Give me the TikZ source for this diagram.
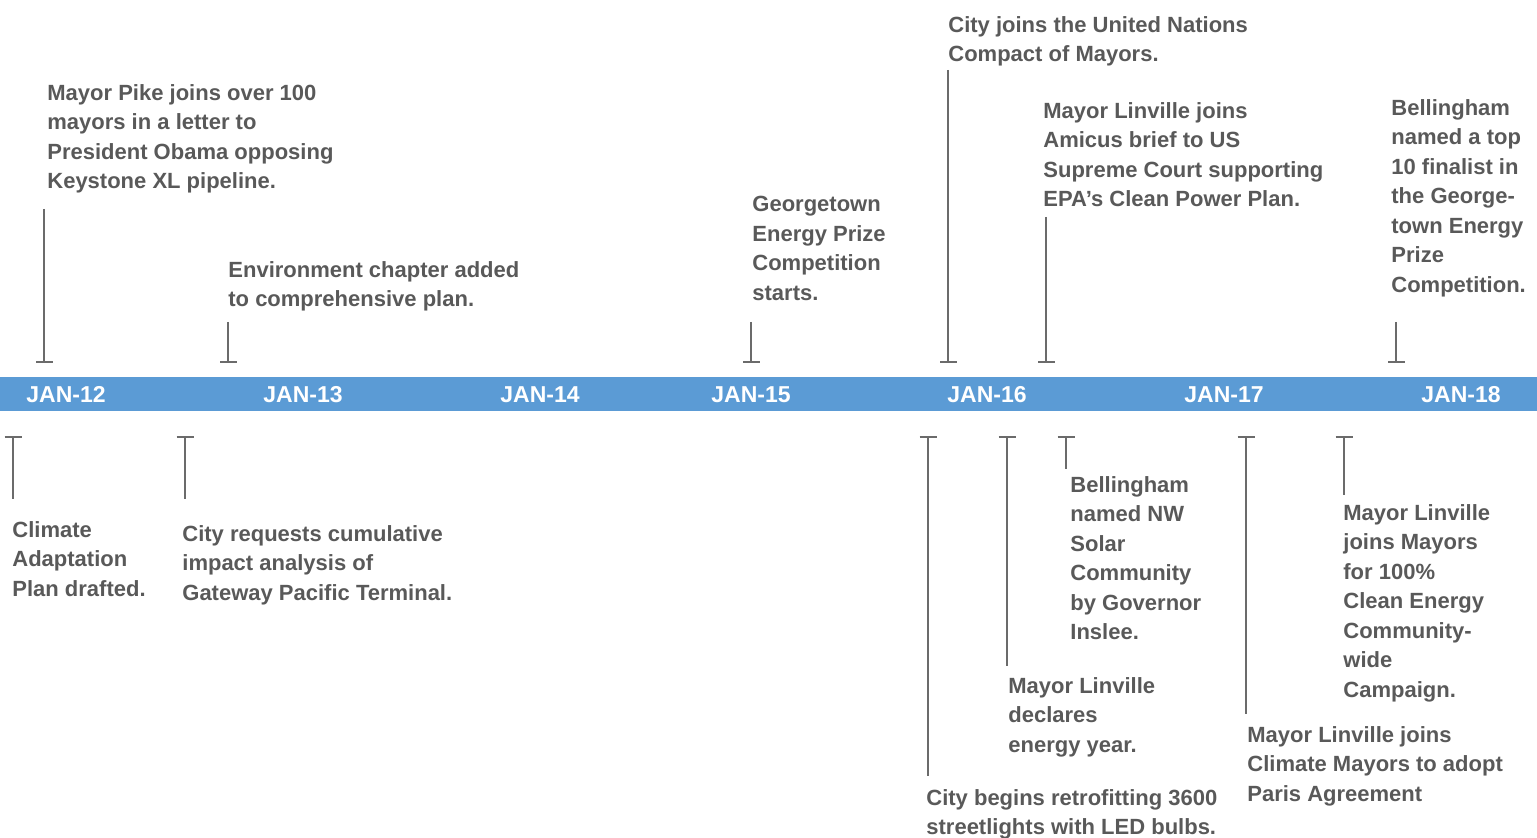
\documentclass[tikz,border=0pt]{standalone}
\usepackage{fontspec}
\setmainfont{Liberation Sans}
\usetikzlibrary{arrows.meta}
\definecolor{barblue}{HTML}{5B9BD5}
\definecolor{textgrey}{HTML}{595959}
\definecolor{stemgrey}{HTML}{6B6B6B}
\tikzset{stem/.style={draw=stemgrey, line width=1pt, -{Bar[width=8.5pt]}}}
\tikzset{event/.style={anchor=north west, align=left, inner sep=0pt, text=textgrey, font=\bfseries\fontsize{11}{14.75}\selectfont}}
\tikzset{month/.style={text=white, inner sep=0pt, font=\bfseries\fontsize{11.5}{12}\selectfont}}

\begin{document}
\begin{tikzpicture}[x=0.5pt, y=-0.5pt]
	\useasboundingbox (0,0) rectangle (1537,838);

	% Timeline bar
	\coordinate (bar nw) at (0,377);	\coordinate (bar se) at (1537,411);
	\fill[barblue] (bar nw) rectangle (bar se);

	\node[month] (jan12) at (66,395) {JAN-12};
	\node[month] (jan13) at (303,395) {JAN-13};
	\node[month] (jan14) at (540,395) {JAN-14};
	\node[month] (jan15) at (751,395) {JAN-15};
	\node[month] (jan16) at (987,395) {JAN-16};
	\node[month] (jan17) at (1224,395) {JAN-17};
	\node[month] (jan18) at (1461,395) {JAN-18};

	% Above the bar
	\coordinate (up1 top) at (44,209);		\coordinate (up1 foot) at (44,363);
	\coordinate (up2 top) at (228,322);		\coordinate (up2 foot) at (228,363);
	\coordinate (up3 top) at (751,322);		\coordinate (up3 foot) at (751,363);
	\coordinate (up4 top) at (948,70);		\coordinate (up4 foot) at (948,363);
	\coordinate (up5 top) at (1046,217);	\coordinate (up5 foot) at (1046,363);
	\coordinate (up6 top) at (1396,322);	\coordinate (up6 foot) at (1396,363);

	\node[event] (keystone) at (47,84) {Mayor Pike joins over 100\\mayors in a letter to\\President Obama opposing\\Keystone XL pipeline.};
	\node[event] (chapter) at (228,261) {Environment chapter added\\to comprehensive plan.};
	\node[event] (prizestart) at (752,196) {Georgetown\\Energy Prize\\Competition\\starts.};
	\node[event] (compact) at (948,16) {City joins the United Nations\\Compact of Mayors.};
	\node[event] (amicus) at (1043,102) {Mayor Linville joins\\Amicus brief to US\\Supreme Court supporting\\EPA’s Clean Power Plan.};
	\node[event] (finalist) at (1391,99) {Bellingham\\named a top\\10 finalist in\\the George-\\town Energy\\Prize\\Competition.};

	% Below the bar
	\coordinate (dn1 head) at (13,436);		\coordinate (dn1 end) at (13,499);
	\coordinate (dn2 head) at (185,436);	\coordinate (dn2 end) at (185,499);
	\coordinate (dn3 head) at (928,436);	\coordinate (dn3 end) at (928,776);
	\coordinate (dn4 head) at (1007,436);	\coordinate (dn4 end) at (1007,666);
	\coordinate (dn5 head) at (1066,436);	\coordinate (dn5 end) at (1066,469);
	\coordinate (dn6 head) at (1246,436);	\coordinate (dn6 end) at (1246,714);
	\coordinate (dn7 head) at (1344,436);	\coordinate (dn7 end) at (1344,495);

	\node[event] (adaptation) at (12,521) {Climate\\Adaptation\\Plan drafted.};
	\node[event] (gateway) at (182,525) {City requests cumulative\\impact analysis of\\Gateway Pacific Terminal.};
	\node[event] (streetlights) at (926,789) {City begins retrofitting 3600\\streetlights with LED bulbs.};
	\node[event] (energyyear) at (1008,677) {Mayor Linville\\declares\\energy year.};
	\node[event] (solar) at (1070,476) {Bellingham\\named NW\\Solar\\Community\\by Governor\\Inslee.};
	\node[event] (paris) at (1247,726) {Mayor Linville joins\\Climate Mayors to adopt\\Paris Agreement};
	\node[event] (hundred) at (1343,504) {Mayor Linville\\joins Mayors\\for 100\%\\Clean Energy\\Community-\\wide\\Campaign.};

	% Stems
	\draw[stem] (up1 top) -- (up1 foot);
	\draw[stem] (up2 top) -- (up2 foot);
	\draw[stem] (up3 top) -- (up3 foot);
	\draw[stem] (up4 top) -- (up4 foot);
	\draw[stem] (up5 top) -- (up5 foot);
	\draw[stem] (up6 top) -- (up6 foot);

	\draw[stem] (dn1 end) -- (dn1 head);
	\draw[stem] (dn2 end) -- (dn2 head);
	\draw[stem] (dn3 end) -- (dn3 head);
	\draw[stem] (dn4 end) -- (dn4 head);
	\draw[stem] (dn5 end) -- (dn5 head);
	\draw[stem] (dn6 end) -- (dn6 head);
	\draw[stem] (dn7 end) -- (dn7 head);
\end{tikzpicture}
\end{document}
